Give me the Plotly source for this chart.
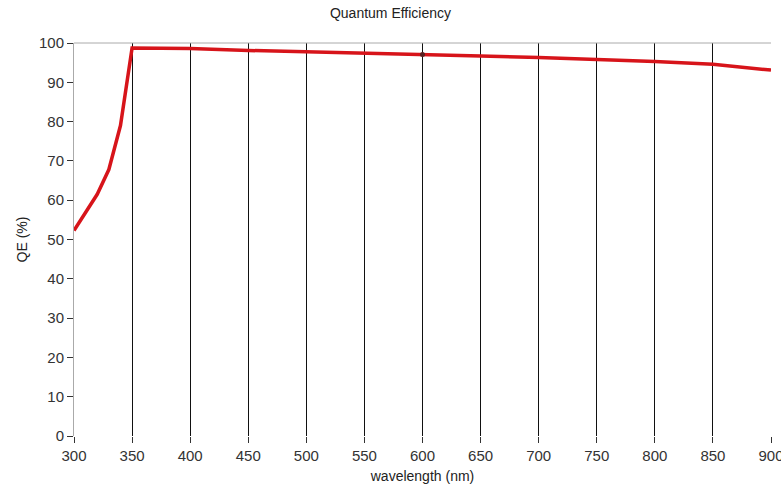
import plotly.graph_objects as go

wavelength = [300, 310, 320, 330, 340, 350, 400, 450, 500, 550, 600, 650, 700, 750, 800, 850, 900]
qe = [52.3, 56.8, 61.5, 67.8, 79.0, 98.7, 98.6, 98.1, 97.8, 97.5, 97.1, 96.7, 96.3, 95.9, 95.3, 94.6, 93.1]
cursor_wl = [600]
cursor_qe = [97.1]
x_ticks = [300, 350, 400, 450, 500, 550, 600, 650, 700, 750, 800, 850, 900]
y_ticks = [0, 10, 20, 30, 40, 50, 60, 70, 80, 90, 100]

fig = go.Figure()
fig.add_trace(go.Scatter(x=wavelength, y=qe, mode="lines",
                         line=dict(color="#d7141a", width=3.5), showlegend=False))
fig.add_trace(go.Scatter(x=cursor_wl, y=cursor_qe, mode="markers",
                         marker=dict(color="#5a2020", size=5), showlegend=False))

font = "Liberation Sans, Arial, sans-serif"
fig.update_layout(
    width=781, height=490,
    margin=dict(l=74, r=10, t=43, b=54),
    paper_bgcolor="white", plot_bgcolor="white",
    title=dict(text="Quantum Efficiency", x=0.5, xanchor="center", y=0.973, yanchor="middle",
               font=dict(family=font, size=14, color="#222")),
    font=dict(family=font, size=14, color="#333"),
    xaxis=dict(range=[300, 900], tickvals=x_ticks, showgrid=True, gridcolor="#111", gridwidth=1,
               ticks="outside", ticklen=6, tickcolor="#333", showline=False, zeroline=False,
               ticklabeloverflow="allow", automargin=False,
               title=dict(text="wavelength (nm)", font=dict(size=14, color="#222"), standoff=8),
               tickfont=dict(size=15, color="#333")),
    yaxis=dict(range=[0, 100], tickvals=y_ticks, showgrid=False, zeroline=False,
               showline=True, linecolor="#aaa", linewidth=1, automargin=False,
               ticks="outside", ticklen=6, tickcolor="#333",
               title=dict(text="QE (%)", font=dict(size=14, color="#222"), standoff=8),
               tickfont=dict(size=15, color="#333")),
    shapes=[dict(type="line", xref="paper", yref="paper", x0=0, x1=1, y0=1, y1=1,
                 line=dict(color="#aaa", width=1))],
)

fig.write_html("out.html")
